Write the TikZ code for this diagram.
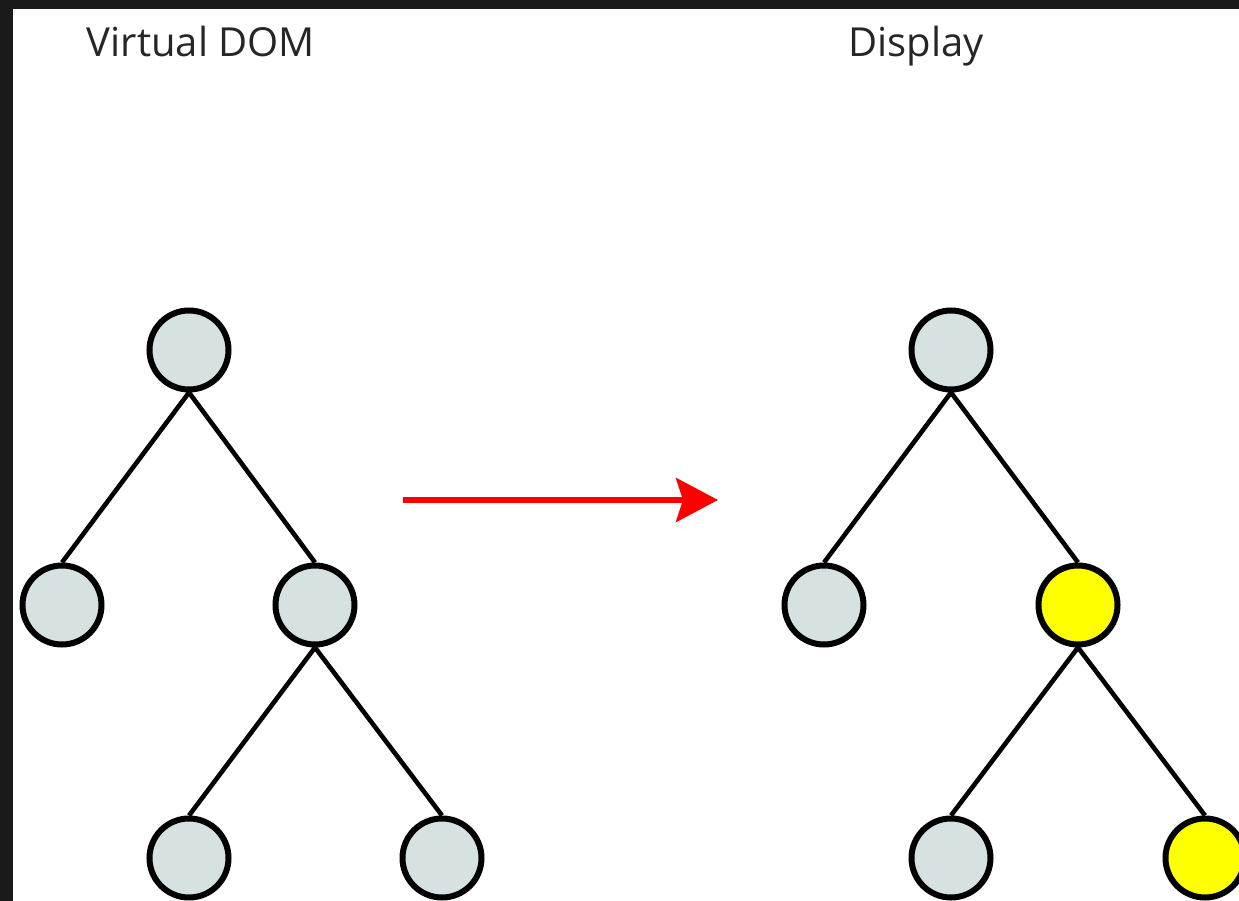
\documentclass[tikz,border=0pt]{standalone}
\usepackage{fontspec}
\setmainfont{Open Sans}
\usetikzlibrary{arrows.meta}
\definecolor{nodefill}{RGB}{214,226,226}
\definecolor{hilite}{RGB}{255,255,0}
\definecolor{frame}{RGB}{26,26,26}
\definecolor{arrowred}{RGB}{255,0,0}
\begin{document}
\begin{tikzpicture}[x=1pt,y=1pt,
  treenode/.style={circle,draw=black,line width=6pt,fill=nodefill,minimum size=79pt,inner sep=0pt},
  hinode/.style={treenode,fill=hilite},
  edge/.style={line width=4.6pt,draw=black},
  title/.style={font=\fontsize{40}{48}\selectfont,anchor=base,text=black!85}]
\useasboundingbox (0,0) rectangle (1239,-901);
\fill[white] (0,0) rectangle (1239,-901);
\fill[frame] (0,0) rectangle (1239,-9);
\fill[frame] (0,0) rectangle (13,-901);
\begin{scope}
\clip (13,-9) rectangle (1239,-901);
% labels
\node[title] (tl) at (201,-57) {Virtual DOM};
\node[title] (tr) at (916,-57) {Display};
% left tree
\node[treenode] (l0) at (189,-350) {};
\node[treenode] (l1) at (62,-605) {};
\node[treenode] (l2) at (315,-605) {};
\node[treenode] (l3) at (189,-858) {};
\node[treenode] (l4) at (442,-858) {};
% right tree
\node[treenode] (r0) at (951,-350) {};
\node[treenode] (r1) at (824,-605) {};
\node[hinode] (r2) at (1078,-605) {};
\node[treenode] (r3) at (951,-858) {};
\node[hinode] (r4) at (1205,-858) {};
\draw[edge] (l0.south) -- (l1.north);
\draw[edge] (l0.south) -- (l2.north);
\draw[edge] (l2.south) -- (l3.north);
\draw[edge] (l2.south) -- (l4.north);
\draw[edge] (r0.south) -- (r1.north);
\draw[edge] (r0.south) -- (r2.north);
\draw[edge] (r2.south) -- (r3.north);
\draw[edge] (r2.south) -- (r4.north);
% arrow
\coordinate (a1) at (403,-500);
\coordinate (a2) at (718,-500);
\draw[arrowred,line width=5.5pt,-{Stealth[length=42pt,width=44pt,inset=7pt]}] (a1) -- (a2);
\end{scope}
\end{tikzpicture}
\end{document}
